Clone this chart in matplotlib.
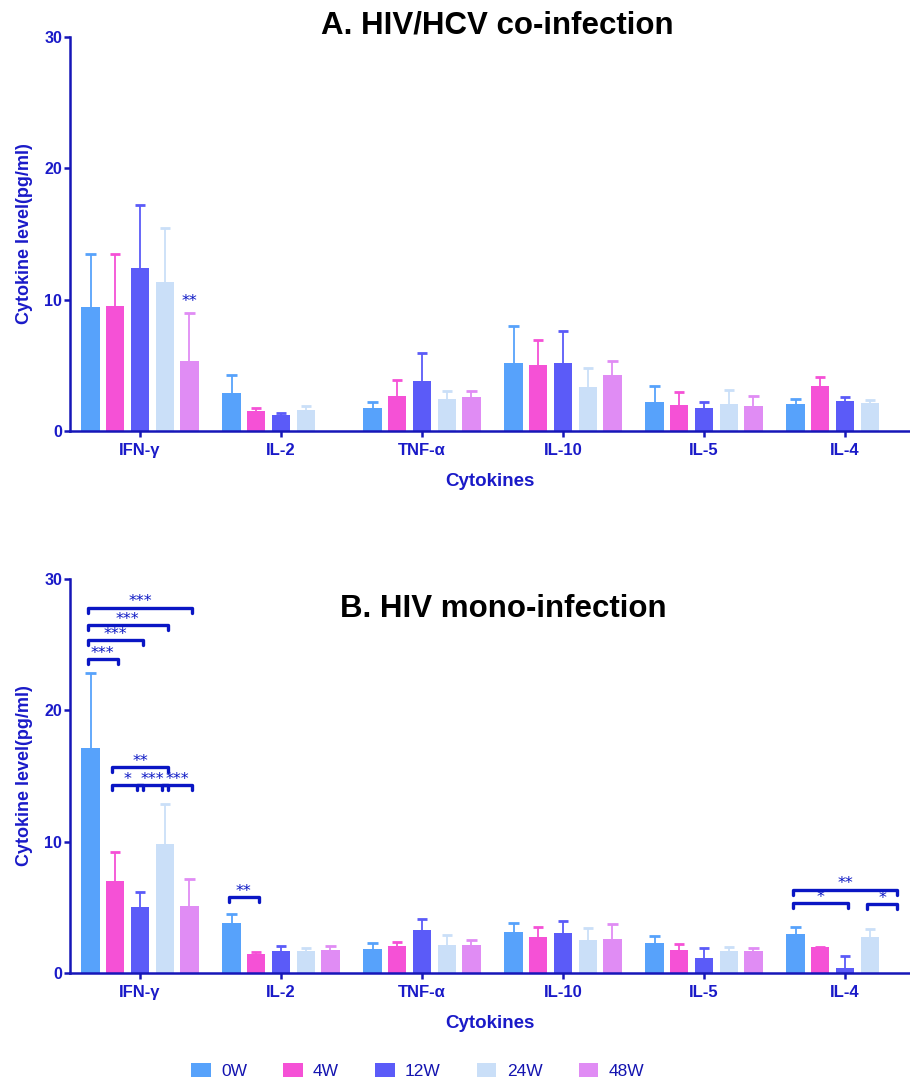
import numpy as np
import matplotlib.pyplot as plt
from matplotlib.patches import Patch

cytokines = ['IFN-γ', 'IL-2', 'TNF-α', 'IL-10', 'IL-5', 'IL-4']
weeks = ['0W', '4W', '12W', '24W', '48W']
colors = ['#57a2fb', '#f551d6', '#5b5bf8', '#cadff8', '#e08cf4']

nan = np.nan

# A. HIV/HCV co-infection: mean and upper error limit, rows = weeks
mean_a = np.array([
    [9.42, 2.92, 1.73, 5.15, 2.21, 2.08],
    [9.52, 1.50, 2.69, 5.05, 2.01, 3.40],
    [12.39, 1.19, 3.81, 5.20, 1.78, 2.28],
    [11.32, 1.60, 2.44, 3.33, 2.03, 2.11],
    [5.36, nan, 2.57, 4.29, 1.93, nan],
])
top_a = np.array([
    [13.48, 4.27, 2.18, 8.02, 3.40, 2.44],
    [13.48, 1.73, 3.86, 6.95, 2.97, 4.14],
    [17.19, 1.35, 5.96, 7.59, 2.23, 2.57],
    [15.48, 1.88, 3.07, 4.80, 3.12, 2.36],
    [8.96, nan, 3.02, 5.33, 2.69, nan],
])

# B. HIV mono-infection
mean_b = np.array([
    [17.12, 3.80, 1.85, 3.12, 2.26, 2.97],
    [6.97, 1.45, 2.08, 2.71, 1.72, 1.95],
    [5.00, 1.65, 3.25, 3.04, 1.12, 0.41],
    [9.84, 1.65, 2.10, 2.54, 1.70, 2.76],
    [5.07, 1.75, 2.10, 2.61, 1.65, nan],
])
top_b = np.array([
    [22.88, 4.49, 2.28, 3.80, 2.84, 3.53],
    [9.21, 1.62, 2.38, 3.50, 2.18, 2.00],
    [6.19, 2.05, 4.11, 3.93, 1.93, 1.29],
    [12.86, 1.90, 2.89, 3.40, 2.00, 3.32],
    [7.15, 2.08, 2.54, 3.73, 1.93, nan],
])

# significance: (cytokine index, week i, week j, bracket height, label)
sig_b = [
    (0, 0, 4, 27.8, '***'),
    (0, 0, 3, 26.5, '***'),
    (0, 0, 2, 25.35, '***'),
    (0, 0, 1, 23.9, '***'),
    (0, 1, 3, 15.65, '**'),
    (0, 1, 2, 14.3, '*'),
    (0, 2, 3, 14.3, '***'),
    (0, 3, 4, 14.3, '***'),
    (1, 0, 1, 5.75, '**'),
    (5, 0, 2, 5.3, '*'),
    (5, 0, 4, 6.35, '**'),
    (5, 3, 4, 5.25, '*'),
]
# stars above a single bar: (cytokine index, week, y, label)
marks_a = [(0, 4, 9.85, '**')]

axis_col = '#1616b8'
text_col = '#1a1ac8'
sig_col = '#0a16c4'
step = 0.1755
width = 0.128
cap = 0.036

plt.rcParams['font.family'] = ['Liberation Sans', 'DejaVu Sans']

fig = plt.figure(figsize=(9.10, 10.82), dpi=100)
ax_a = fig.add_axes([70 / 910, 651 / 1082, 840 / 910, 394 / 1082])
ax_b = fig.add_axes([70 / 910, 109 / 1082, 840 / 910, 394 / 1082])

x = np.arange(len(cytokines))


def draw_panel(ax, mean, top, title, title_x, title_y):
    for i in range(len(weeks)):
        pos = x + (i - 2) * step
        ax.bar(pos, mean[i], width, color=colors[i], zorder=2)
        # upper error bar only
        ax.vlines(pos, mean[i], top[i], color=colors[i], lw=1.3, zorder=1)
        ax.hlines(top[i], pos - cap, pos + cap, color=colors[i], lw=2,
                  zorder=1)
    ax.set_xlim(-0.4965, 5.461)
    ax.set_ylim(0, 30)
    ax.set_yticks([0, 10, 20, 30])
    ax.set_xticks(x)
    ax.set_xticklabels(cytokines)
    for s in ['top', 'right']:
        ax.spines[s].set_visible(False)
    for s in ['left', 'bottom']:
        ax.spines[s].set_color(axis_col)
        ax.spines[s].set_linewidth(1.8)
    ax.tick_params(axis='both', colors=axis_col, width=1.8, length=4.5)
    ax.tick_params(axis='y', pad=1)
    ax.tick_params(axis='x', pad=4)
    for lab in ax.get_xticklabels() + ax.get_yticklabels():
        lab.set_fontweight('bold')
        lab.set_color(text_col)
    for lab in ax.get_xticklabels():
        lab.set_fontsize(12)
    for lab in ax.get_yticklabels():
        lab.set_fontsize(11.5)
    ax.set_ylabel('Cytokine level(pg/ml)', fontsize=13, fontweight='bold',
                  color=text_col, labelpad=8)
    ax.set_xlabel('Cytokines', fontsize=13.5, fontweight='bold',
                  color=text_col, labelpad=11)
    fig.text(title_x, title_y, title, ha='center', va='center',
             fontsize=22.5, fontweight='bold', color='black')


def stars(ax, xc, y, label):
    ax.text(xc, y, label, ha='center', va='center', fontsize=11.5,
            color=sig_col, family='DejaVu Sans')


def bracket(ax, c, i, j, y, label):
    x1 = c + (i - 2) * step - 0.02
    x2 = c + (j - 2) * step + 0.02
    tick = 0.38
    ax.plot([x1, x1, x2, x2], [y - tick, y, y, y - tick], color=sig_col,
            lw=2.4, solid_joinstyle='round', solid_capstyle='round',
            zorder=3, clip_on=False)
    stars(ax, (x1 + x2) / 2, y + 0.45, label)


draw_panel(ax_a, mean_a, top_a, 'A. HIV/HCV co-infection', 497 / 910,
           1 - 25 / 1082)
draw_panel(ax_b, mean_b, top_b, 'B. HIV mono-infection', 503 / 910,
           1 - 609 / 1082)

for c, w, y, label in marks_a:
    stars(ax_a, c + (w - 2) * step, y, label)

for c, i, j, y, label in sig_b:
    bracket(ax_b, c, i, j, y, label)

handles = [Patch(facecolor=colors[i], edgecolor='none', label=weeks[i])
           for i in range(len(weeks))]
leg = fig.legend(handles=handles, loc='center', ncol=5,
                 bbox_to_anchor=(0.459, 11 / 1082), frameon=False,
                 handlelength=1.1, handleheight=0.85,
                 handletextpad=0.6, columnspacing=2.1,
                 prop={'family': ['Liberation Sans Narrow', 'Liberation Sans'],
                       'size': 12.5})
for t in leg.get_texts():
    t.set_color('#1414b0')

fig.savefig('out.png', dpi=100)
